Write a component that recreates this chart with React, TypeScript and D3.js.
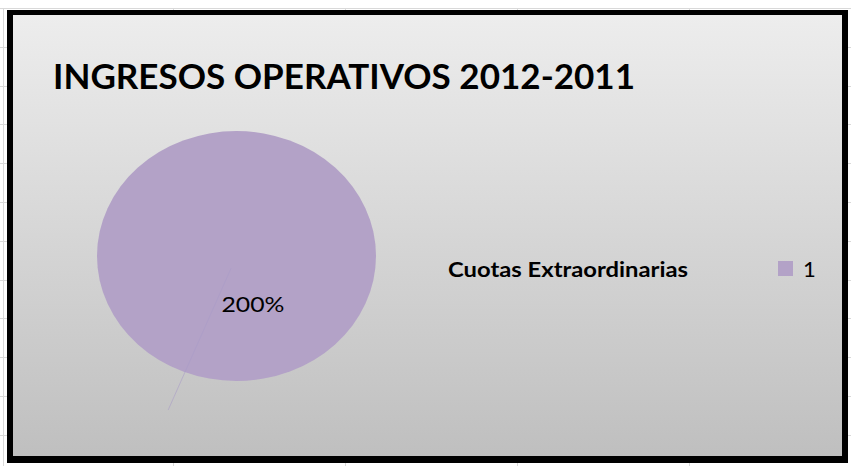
import * as d3 from "d3";
import { useEffect, useRef } from "react";

const title = "INGRESOS OPERATIVOS 2012-2011";
const seriesName = "Cuotas Extraordinarias";
const categories = ["1"];
const values = [2]; // 200%
const sliceColors = ["#b3a2c7"];

export default function App() {
  const svgRef = useRef<SVGSVGElement | null>(null);

  useEffect(() => {
    const width = 851;
    const height = 466;

    const svg = d3.select(svgRef.current);
    svg.selectAll("*").remove();

    // spreadsheet grid behind the chart object
    const grid = svg.append("g").attr("stroke", "#d9d9d9").attr("stroke-width", 1);
    d3.range(0, 12).forEach((i) => {
      const y = Math.round(8 + i * 38.8) + 0.5;
      grid.append("line").attr("x1", 0).attr("x2", width).attr("y1", y).attr("y2", y);
    });
    [3, 173, 345, 517, 689].forEach((x) => {
      grid.append("line").attr("x1", x + 0.5).attr("x2", x + 0.5).attr("y1", 8).attr("y2", height);
    });

    // chart area with gradient and thick black frame
    const defs = svg.append("defs");
    const grad = defs
      .append("linearGradient")
      .attr("id", "bg")
      .attr("x1", 0)
      .attr("y1", 0)
      .attr("x2", 0)
      .attr("y2", 1);
    grad.append("stop").attr("offset", "0%").attr("stop-color", "#ededed");
    grad.append("stop").attr("offset", "100%").attr("stop-color", "#bfbfbf");

    svg.append("rect").attr("x", 7).attr("y", 10).attr("width", 841).attr("height", 453).attr("fill", "#000");
    svg.append("rect").attr("x", 13).attr("y", 15).attr("width", 829).attr("height", 441).attr("fill", "url(#bg)");

    svg
      .append("text")
      .attr("x", 53)
      .attr("y", 89)
      .attr("textLength", 582)
      .attr("lengthAdjust", "spacingAndGlyphs")
      .style("font", "bold 34px Lato, 'Open Sans', sans-serif")
      .attr("fill", "#000")
      .text(title);

    // pie (stretched horizontally like the original)
    const cx = 236.5;
    const cy = 256;
    const rx = 139.5;
    const ry = 125;

    const pie = d3.pie<number>().sort(null)(values);
    const arc = d3.arc<d3.PieArcDatum<number>>().innerRadius(0).outerRadius(rx);

    const g = svg
      .append("g")
      .attr("transform", `translate(${cx},${cy}) scale(1,${ry / rx})`);

    g.selectAll("path.slice")
      .data(pie)
      .join("path")
      .attr("class", "slice")
      .attr("fill", (d, i) => sliceColors[i])
      .attr("d", (d) => arc(d) as string);

    // faint leader line
    const leaderAngle = 3.52;
    const p0 = d3.pointRadial(leaderAngle, rx * 0.107);
    const p1 = d3.pointRadial(leaderAngle, rx * 1.326);
    g.append("line")
      .attr("x1", p0[0])
      .attr("y1", p0[1])
      .attr("x2", p1[0])
      .attr("y2", p1[1])
      .attr("stroke", "#a99cc8")
      .attr("stroke-width", 0.8)
      .attr("vector-effect", "non-scaling-stroke")
      .attr("opacity", 0.7);

    const pct = d3.format(".0%");
    svg
      .selectAll("text.lbl")
      .data(pie)
      .join("text")
      .attr("class", "lbl")
      .attr("x", cx + 16.5)
      .attr("y", cy + 56)
      .attr("text-anchor", "middle")
      .attr("textLength", 63)
      .attr("lengthAdjust", "spacingAndGlyphs")
      .style("font", "22px Lato, 'Open Sans', sans-serif")
      .attr("fill", "#000")
      .text((d) => pct(d.data));

    // legend
    svg
      .append("text")
      .attr("x", 448)
      .attr("y", 277)
      .attr("textLength", 240)
      .attr("lengthAdjust", "spacingAndGlyphs")
      .style("font", "bold 21px Lato, 'Open Sans', sans-serif")
      .attr("fill", "#000")
      .text(seriesName);

    const leg = svg
      .selectAll("g.leg")
      .data(categories)
      .join("g")
      .attr("class", "leg")
      .attr("transform", (d, i) => `translate(778,${261 + i * 24})`);
    leg.append("rect").attr("width", 15).attr("height", 15).attr("fill", (d, i) => sliceColors[i]);
    leg
      .append("text")
      .attr("x", 25)
      .attr("y", 16)
      .style("font", "22px Lato, 'Open Sans', sans-serif")
      .attr("fill", "#000")
      .text((d) => d);
  }, []);

  return (
    <svg
      ref={svgRef}
      width={851}
      height={466}
      style={{ position: "absolute", left: 0, top: 0, background: "#fff" }}
    />
  );
}
